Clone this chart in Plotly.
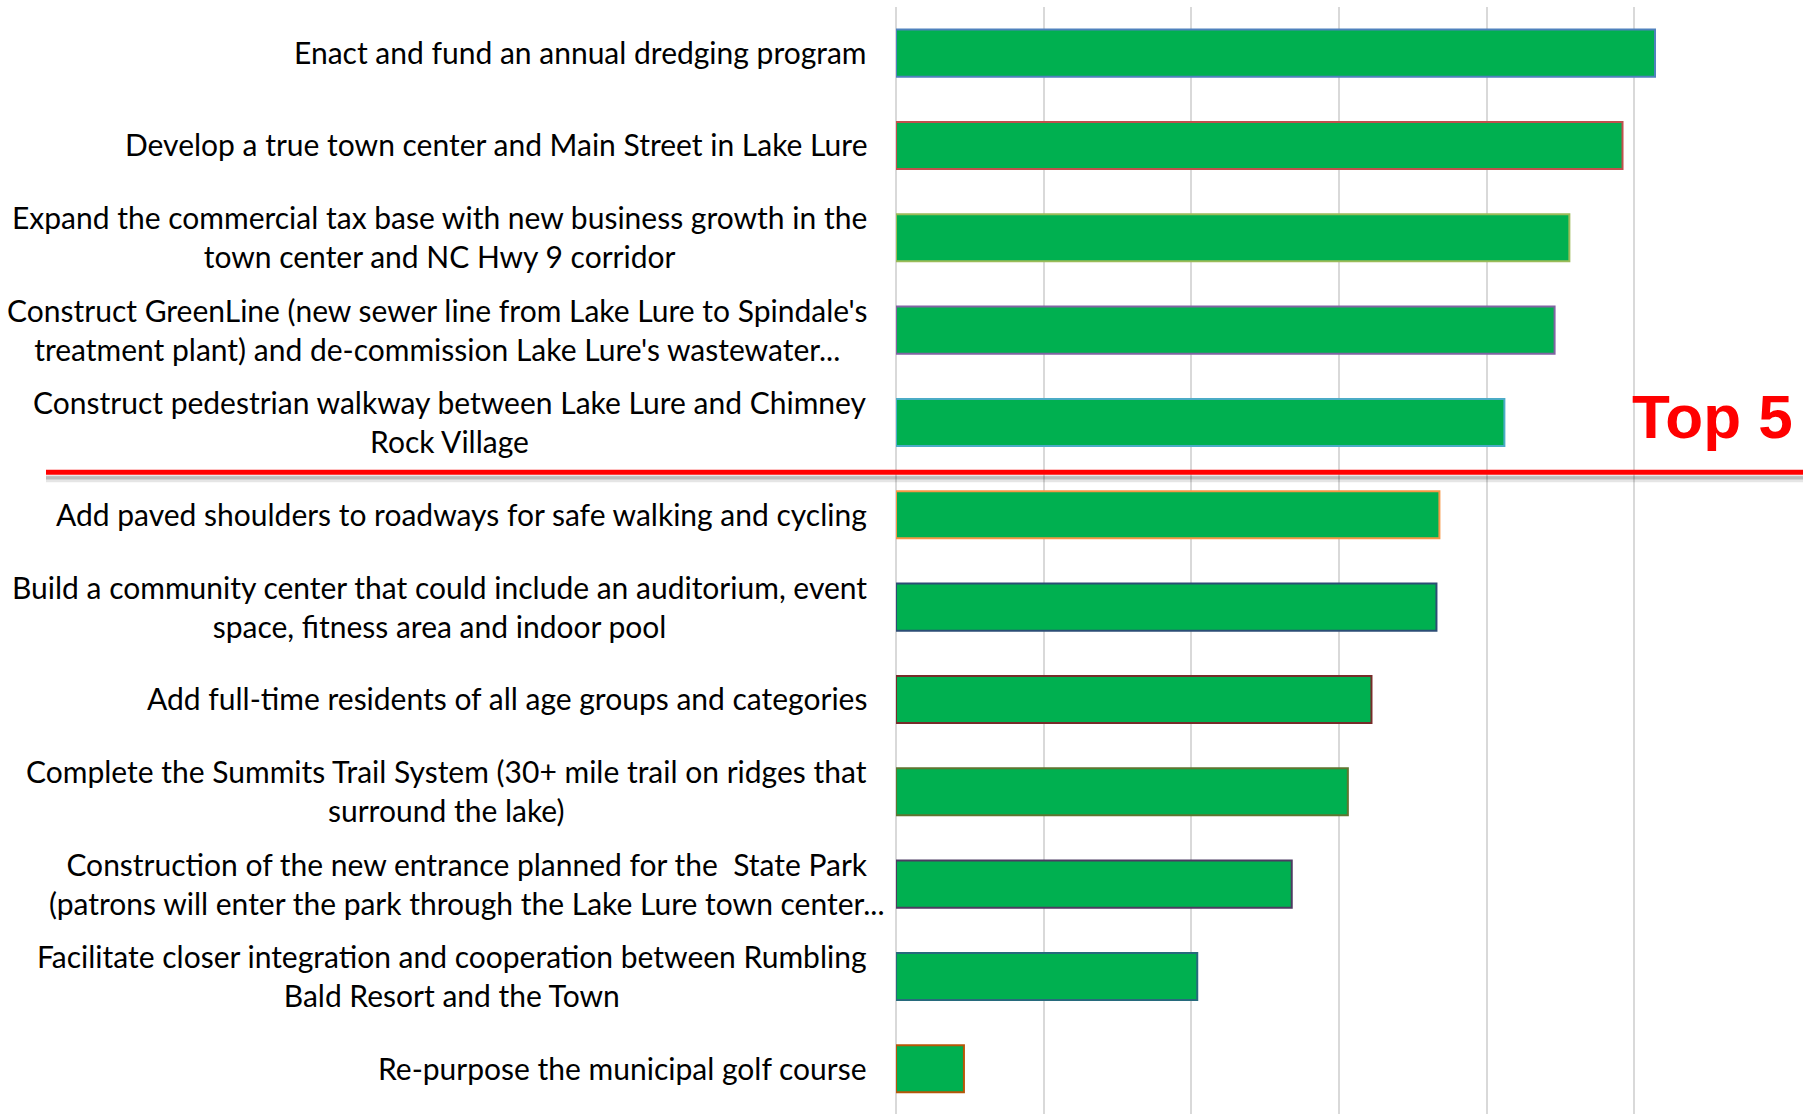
import plotly.graph_objects as go

# Priority projects, ranked by score (top of list = highest priority)
projects = [
    "Enact and fund an annual dredging program",
    "Develop a true town center and Main Street in Lake Lure",
    "Expand the commercial tax base with new business growth in the<br>town center and NC Hwy 9 corridor",
    "Construct GreenLine (new sewer line from Lake Lure to Spindale's<br>treatment plant) and de-commission Lake Lure's wastewater...",
    "Construct pedestrian walkway between Lake Lure and Chimney<br>Rock Village",
    "Add paved shoulders to roadways for safe walking and cycling",
    "Build a community center that could include an auditorium, event<br>space, fitness area and indoor pool",
    "Add full-time residents of all age groups and categories",
    "Complete the Summits Trail System (30+ mile trail on ridges that<br>surround the lake)",
    "Construction of the new entrance planned for the  State Park<br>(patrons will enter the park through the Lake Lure town center...",
    "Facilitate closer integration and cooperation between Rumbling<br>Bald Resort and the Town",
    "Re-purpose the municipal golf course",
]
scores = [257, 246, 228, 223, 206, 184, 183, 161, 153, 134, 102, 23]

# Office-theme outline colours, varied by point
outline_colors = [
    "#4F81BD", "#C0504D", "#9BBB59", "#8064A2", "#4BACC6", "#F79646",
    "#2C4D75", "#772C2A", "#5F7530", "#4D3B62", "#276A7C", "#B65708",
]

top_n = 5
grid_step = 50
x_max = 300

W, H = 1814, 1114
L, R, T, B = 896, W - 1782, 7, 0
plot_w = W - L - R
plot_h = H - T - B

ypos = list(range(len(projects)))

fig = go.Figure(
    go.Bar(
        x=scores,
        y=ypos,
        orientation="h",
        marker=dict(color="#00B050", line=dict(color=outline_colors, width=2)),
        hoverinfo="skip",
    )
)

label_font = dict(family="Lato, Carlito, Calibri, sans-serif", size=30, color="#000000")
# labels that overflow their column sit a little further right
overflow_shift = {9: 17}
for i, text in enumerate(projects):
    fig.add_annotation(
        x=(869 - L) / plot_w, xref="paper",
        y=i, yref="y",
        text=text, showarrow=False,
        xanchor="right", yanchor="middle", align="center",
        xshift=overflow_shift.get(i, 0), yshift=1,
        font=label_font,
    )

# divider between the top five and the rest, with a soft shadow
sep_y = top_n - 0.5 + 0.04
x0p, x1p = (46 - L) / plot_w, (1803 - L) / plot_w
for dy, col, w in [(0.075, "rgba(0,0,0,0.10)", 6), (0.055, "rgba(0,0,0,0.18)", 4)]:
    fig.add_shape(type="line", xref="paper", yref="y", x0=x0p, x1=x1p,
                  y0=sep_y + dy, y1=sep_y + dy, line=dict(color=col, width=w))
fig.add_shape(type="line", xref="paper", yref="y", x0=x0p, x1=x1p,
              y0=sep_y, y1=sep_y, line=dict(color="#FF0000", width=5))

fig.add_annotation(
    x=(1795 - L) / plot_w, xref="paper",
    y=sep_y - 0.6, yref="y",
    text=f"<b>Top {top_n}</b>", showarrow=False,
    xanchor="right", yanchor="middle",
    font=dict(family="Liberation Sans, Arial, sans-serif", size=62, color="#FF0000"),
)

fig.update_layout(
    width=W, height=H,
    margin=dict(l=L, r=R, t=T, b=B),
    paper_bgcolor="white", plot_bgcolor="white",
    showlegend=False,
    bargap=0.49,
    xaxis=dict(
        range=[0, x_max], dtick=grid_step, showticklabels=False,
        showgrid=True, gridcolor="#D9D9D9", gridwidth=2,
        zeroline=True, zerolinecolor="#D9D9D9", zerolinewidth=2,
        showline=False, fixedrange=True,
    ),
    yaxis=dict(
        range=[len(projects) - 0.51, -0.5], showticklabels=False,
        showgrid=False, zeroline=False, showline=False, fixedrange=True,
    ),
)

fig.write_html("out.html", config={"displayModeBar": False})
